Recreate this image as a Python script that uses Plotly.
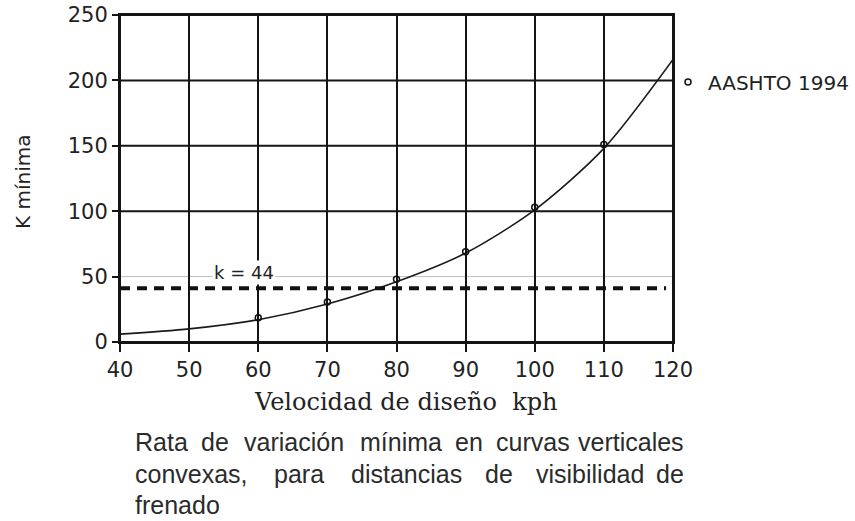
import plotly.graph_objects as go

# --- data ---
CURVE_X = [40, 50, 60, 70, 80, 90, 100, 110, 120]
CURVE_Y = [6, 10, 17, 29, 46, 68, 101, 148, 216]

AASHTO_X = [60, 70, 80, 90, 100, 110]
AASHTO_Y = [18.5, 30.5, 48, 69, 103, 151]

K_LINE_X = [40, 119]
K_LINE_Y = 41
K_LABEL = "k = 44"

X_TICKS = [40, 50, 60, 70, 80, 90, 100, 110, 120]
Y_TICKS = [0, 50, 100, 150, 200, 250]
GRID_Y_DARK = [100, 150, 200]
GRID_Y_LIGHT = [50]

CAPTION_1 = ["Rata", "de", "variación", "mínima", "en", "curvas", "verticales"]
CAPTION_2 = ["convexas,", "para", "distancias", "de", "visibilidad", "de"]
CAPTION_3 = ["frenado"]

W, H = 855, 521
L, R, T, B = 120, 673, 15, 342  # plot area in pixels


def px_x(p):
    return (p - L) / (R - L)


def px_y(p):
    return (B - p) / (B - T)


INK = "#151515"
TEXT = "#222"
TICK_FONT = dict(family="DejaVu Sans", size=21, color=TEXT)
CAP_FONT = dict(family="Liberation Sans", size=25, color="#2b2b2b")

fig = go.Figure()

fig.add_trace(go.Scatter(
    x=CURVE_X, y=CURVE_Y, mode="lines",
    line=dict(color="#1a1a1a", width=1.6, shape="spline", smoothing=0.8),
    showlegend=False, hoverinfo="skip",
))

fig.add_trace(go.Scatter(
    x=K_LINE_X, y=[K_LINE_Y] * len(K_LINE_X), mode="lines",
    line=dict(color="#111", width=4, dash="10px,7px"),
    showlegend=False, hoverinfo="skip",
))

fig.add_trace(go.Scatter(
    x=AASHTO_X, y=AASHTO_Y, mode="markers", name="AASHTO 1994",
    marker=dict(symbol="circle-open", size=6, color="#111", line=dict(width=1.5)),
))

shapes = []
for v in GRID_Y_DARK:
    shapes.append(dict(type="line", xref="paper", x0=0, x1=1, yref="y", y0=v, y1=v,
                       line=dict(color=INK, width=2), layer="below"))
for v in GRID_Y_LIGHT:
    shapes.append(dict(type="line", xref="paper", x0=0, x1=1, yref="y", y0=v, y1=v,
                       line=dict(color="#bdbdbd", width=1), layer="below"))
# outer frame of the plot area
shapes.append(dict(type="rect", xref="paper", yref="paper", x0=0, x1=1, y0=0, y1=1,
                   line=dict(color=INK, width=2), fillcolor="rgba(0,0,0,0)", layer="above"))

annotations = [
    dict(text=K_LABEL, x=58, y=53.5, xref="x", yref="y", xanchor="center", yanchor="middle",
         showarrow=False, bgcolor="white",
         font=dict(family="DejaVu Sans", size=18, color=TEXT)),
    dict(text="K mínima", x=px_x(23), y=px_y(182), xref="paper", yref="paper",
         xanchor="center", yanchor="middle", textangle=-90, showarrow=False,
         font=dict(family="DejaVu Sans", size=20, color=TEXT)),
    dict(text="Velocidad de diseño  kph", x=px_x(406), y=px_y(402), xref="paper", yref="paper",
         xanchor="center", yanchor="middle", showarrow=False,
         font=dict(family="DejaVu Serif", size=24, color=TEXT)),
]


def caption_line(words, starts, y, last_right=None):
    # the caption is justified in the picture: place each word where it sits
    for i, word in enumerate(words):
        if last_right is not None and i == len(words) - 1:
            x, anchor = px_x(last_right), "right"
        else:
            x, anchor = px_x(starts[i]), "left"
        annotations.append(dict(text=word, x=x, y=px_y(y), xref="paper", yref="paper",
                                xanchor=anchor, yanchor="middle", showarrow=False,
                                font=CAP_FONT))


caption_line(CAPTION_1, [133, 199, 242, 358, 453, 494], 442, last_right=686)
caption_line(CAPTION_2, [133, 272, 349, 483, 534], 474, last_right=686)
caption_line(CAPTION_3, [133], 505)

fig.update_layout(
    width=W, height=H,
    margin=dict(l=L, r=W - R, t=T, b=H - B, pad=0, autoexpand=False),
    paper_bgcolor="white", plot_bgcolor="white",
    showlegend=True,
    legend=dict(x=px_x(668), y=px_y(82), xanchor="left", yanchor="middle",
                font=dict(family="DejaVu Sans", size=20, color=TEXT),
                bgcolor="rgba(0,0,0,0)", itemwidth=30),
    shapes=shapes,
    annotations=annotations,
    xaxis=dict(range=[40, 120], tickvals=X_TICKS, showgrid=True, gridcolor=INK, gridwidth=2,
               zeroline=False, showline=True, mirror=True, linecolor=INK, linewidth=2,
               ticks="outside", ticklen=8, tickwidth=2, tickcolor=INK, tickfont=TICK_FONT,
               automargin=False, ticklabeloverflow="allow"),
    yaxis=dict(range=[0, 250], tickvals=Y_TICKS, showgrid=False, zeroline=False,
               showline=True, mirror=True, linecolor=INK, linewidth=2,
               ticks="outside", ticklen=6, tickwidth=2, tickcolor=INK, tickfont=TICK_FONT,
               automargin=False, ticklabeloverflow="allow"),
)

# drop the default 8px page margin so the figure sits in the window corner
fig.write_html("out.html", config={"displayModeBar": False},
               post_script="document.body.style.margin = '0';")
